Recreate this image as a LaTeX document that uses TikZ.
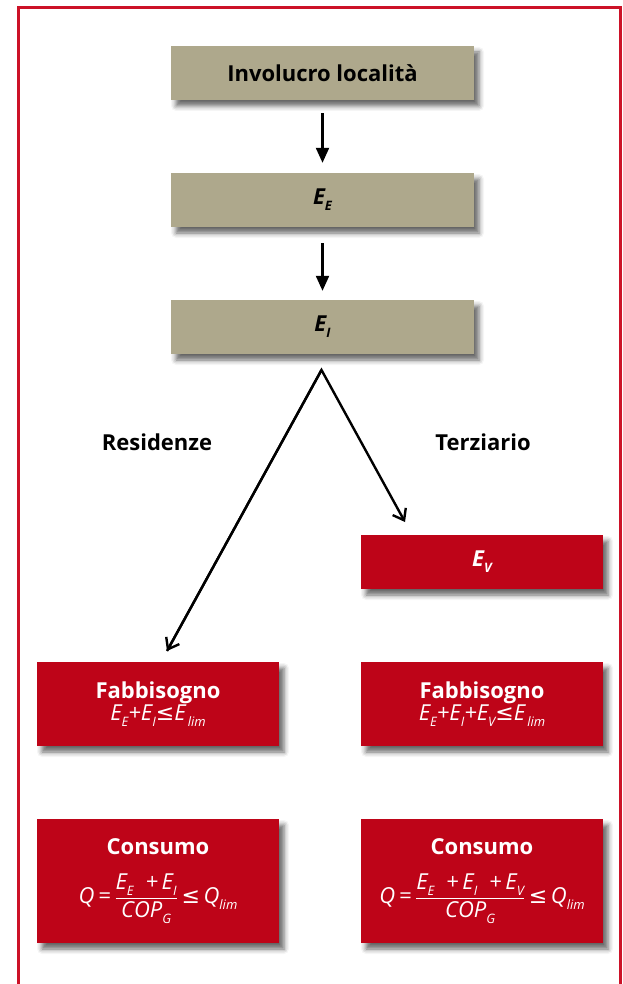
\documentclass[tikz,border=0pt]{standalone}
\usepackage{fontspec}
\setmainfont{Open Sans}
\newfontfamily\symf{DejaVu Sans}
\usetikzlibrary{arrows.meta,shadows.blur}
\definecolor{tanfill}{RGB}{174,168,140}
\definecolor{boxred}{RGB}{190,4,24}
\definecolor{framered}{RGB}{204,18,40}
\newcommand\sbs[1]{\raisebox{-0.5ex}{\fontsize{13}{13}\selectfont #1}}
\newcommand\leqs{{\symf\upshape ≤}}
\tikzset{
  shad/.style={blur shadow={shadow xshift=5pt, shadow yshift=-6pt, shadow blur radius=5pt, shadow opacity=60}},
  tanbox/.style={shad, fill=tanfill, minimum width=303pt, minimum height=54pt, inner sep=0pt, font=\bfseries\fontsize{22}{26}\selectfont, text=black},
  redbox/.style={shad, fill=boxred, minimum width=242pt, inner sep=0pt, align=center, text=white, font=\fontsize{22}{25}\selectfont},
  lbl/.style={font=\bfseries\fontsize{22}{26}\selectfont},
  varrow/.style={line width=2.2pt, -{Triangle[length=15pt,width=13pt]}},
  darrow/.style={line width=2.4pt, -{Straight Barb[length=10pt,width=15pt,line width=2.4pt]}}
}
\begin{document}
\begin{tikzpicture}[x=1pt,y=-1pt]
\useasboundingbox (0,0) rectangle (623,984);
\draw[framered, line width=3pt] (18.5,990) -- (18.5,8) -- (620,8) -- (620,990);

\node[tanbox] (inv) at (322.5,73) {Involucro località};
\node[tanbox] (ee) at (322.5,200) {\itshape E\sbs{E}};
\node[tanbox] (ei) at (322.5,327) {\itshape E\sbs{I}};

\node[redbox, minimum height=54pt, font=\bfseries\itshape\fontsize{22}{26}\selectfont] (ev) at (482,562) {E\sbs{V}};

\node[redbox, minimum height=84pt] (fl) at (158,704) {\textbf{Fabbisogno}\\[-3pt]{\itshape E\sbs{E}+E\sbs{I}\leqs E\sbs{\,lim}}};
\node[redbox, minimum height=84pt] (fr) at (482,704) {\textbf{Fabbisogno}\\[-3pt]{\itshape E\sbs{E}+E\sbs{I}+E\sbs{V}\leqs E\sbs{\,lim}}};

\node[redbox, minimum height=124pt] (cl) at (158,881) {\textbf{Consumo}\\[18pt]$\displaystyle\hbox{\itshape Q\,=\,}\frac{\hbox{\itshape E\sbs{E}\; +\,E\sbs{I}}}{\hbox{\itshape COP\sbs{G}}}\hbox{\,\leqs\,\itshape Q\sbs{lim}}$};
\node[redbox, minimum height=124pt] (cr) at (482,881) {\textbf{Consumo}\\[18pt]$\displaystyle\hbox{\itshape Q\,=\,}\frac{\hbox{\itshape E\sbs{E}\; +\,E\sbs{I}\; +\,E\sbs{V}}}{\hbox{\itshape COP\sbs{G}}}\hbox{\,\leqs\,\itshape Q\sbs{lim}}$};

\node[lbl] (res) at (157,442) {Residenze};
\node[lbl] (ter) at (483,442) {Terziario};

\draw[varrow, shorten <=13pt, shorten >=10pt] (inv.south) -- (ee.north);
\draw[varrow, shorten <=16pt, shorten >=9pt] (ee.south) -- (ei.north);

\coordinate (apex) at (321.5,370);
\coordinate (tipr) at (405,522);
\coordinate (tipl) at (167,651);
\draw[darrow, line join=miter] (tipl) -- (apex) -- (tipr);
\draw[darrow] (apex) -- (tipl);
\end{tikzpicture}
\end{document}
